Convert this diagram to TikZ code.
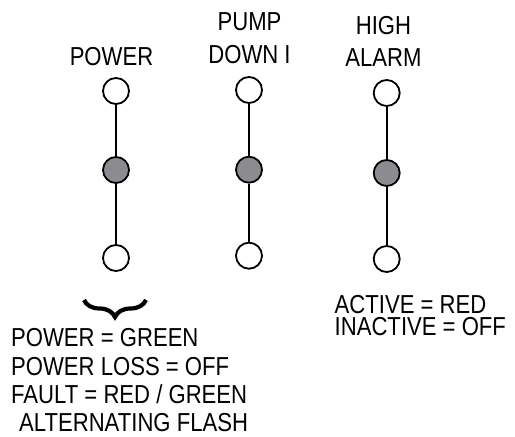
\documentclass[tikz,border=0pt]{standalone}
\usepackage{fontspec}
\setmainfont{Liberation Sans}[FakeStretch=0.85]
\usetikzlibrary{decorations.pathreplacing}
\definecolor{ledgray}{RGB}{140,140,144}
\begin{document}
\begin{tikzpicture}[x=1pt,y=1pt,
  lamp/.style={circle,draw=black,line width=1.8pt,minimum size=26pt,inner sep=0pt,fill=white},
  lampon/.style={lamp,fill=ledgray},
  wire/.style={line width=1.8pt},
  lbl/.style={inner sep=0pt,align=center,font=\fontsize{26}{32}\selectfont},
  note/.style={inner sep=0pt,align=left,anchor=base west}]
\useasboundingbox (0,0) rectangle (515,437);
% POWER column
\node[lamp]   (p1) at (116,346) {};
\node[lampon] (p2) at (116,267) {};
\node[lamp]   (p3) at (116,179) {};
% PUMP column
\node[lamp]   (q1) at (249,347) {};
\node[lampon] (q2) at (249,267.3) {};
\node[lamp]   (q3) at (249,181.3) {};
% HIGH ALARM column
\node[lamp]   (h1) at (386.7,344) {};
\node[lampon] (h2) at (386.7,264) {};
\node[lamp]   (h3) at (386.7,178) {};
\draw[wire] (p1) -- (p2) (p2) -- (p3);
\draw[wire] (q1) -- (q2) (q2) -- (q3);
\draw[wire] (h1) -- (h2) (h2) -- (h3);
% labels (base anchor = last line)
\node[lbl,anchor=base] (lp) at (111.5,371.5) {POWER};
\node[lbl,anchor=base,font=\fontsize{26}{33}\selectfont] (lq) at (249.5,373.7) {PUMP\\DOWN I};
\node[lbl,anchor=base,font=\fontsize{26}{31.7}\selectfont] (lh) at (383.5,370.3) {HIGH\\ALARM};
% notes
\node[note,font=\fontsize{26}{28.3}\selectfont] (nl) at (11,5.3)
  {POWER = GREEN\\POWER LOSS = OFF\\FAULT = RED / GREEN\\\hspace*{8pt}ALTERNATING FLASH};
\node[note,font=\fontsize{26}{22.7}\selectfont] (nr) at (334.5,101)
  {ACTIVE = RED\\INACTIVE = OFF};
% brace
\coordinate (bl) at (84,137);
\coordinate (br) at (146,137);
\draw[line width=4.2pt,decorate,decoration={brace,amplitude=17pt}] (br) -- (bl);
\end{tikzpicture}
\end{document}
